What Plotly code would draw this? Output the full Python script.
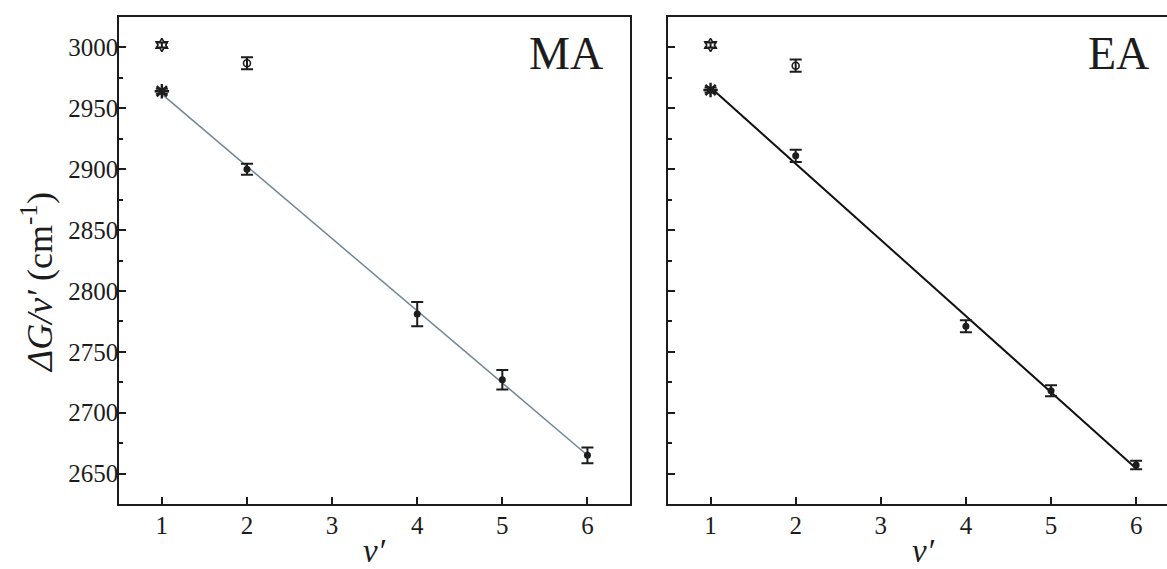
import numpy as np
import plotly.graph_objects as go

# Vibrational quantum number v' and term values ΔG/v' (cm^-1)
V_TICKS = [1, 2, 3, 4, 5, 6]

# MA panel
ma_v_fit = [1, 2, 4, 5, 6]
ma_g_fit = [2964, 2900, 2781, 2727, 2665]
ma_e_fit = [2, 4.5, 10, 8, 6.5]
ma_v_star = [1]
ma_g_star = [3002]
ma_e_star = [2]
ma_v_open = [2]
ma_g_open = [2987]
ma_e_open = [5]

# EA panel
ea_v_fit = [1, 2, 4, 5, 6]
ea_g_fit = [2965, 2911, 2771, 2718, 2657]
ea_e_fit = [2, 5, 5, 4.5, 3.5]
ea_v_star = [1]
ea_g_star = [3002]
ea_e_star = [2]
ea_v_open = [2]
ea_g_open = [2985]
ea_e_open = [5]

Y_RANGE = [2625, 3025]
FONT = "Liberation Serif"
INK = "#1c1c1c"

W, H = 1167, 569
# plot areas in pixels (left, right, top, bottom)
L_BOX = (119.3, 630.0, 17.0, 504.0)
R_BOX = (668.0, 1167.0, 17.0, 504.0)
PX_PER_UNIT = (L_BOX[1] - L_BOX[0]) / 6.0


def xdom(box):
    return [box[0] / W, box[1] / W]


def ydom(box):
    return [(H - box[3]) / H, (H - box[2]) / H]


def err(arr):
    return dict(type="data", array=arr, visible=True, color=INK, thickness=2, width=6)


def add_panel(fig, xa, ya, v_fit, g_fit, e_fit, v_star, g_star, e_star,
              v_open, g_open, e_open, line_color, line_width):
    # least-squares line through the fitted series
    slope, icpt = np.polyfit(v_fit, g_fit, 1)
    xs = np.array([min(v_fit), max(v_fit)], dtype=float)
    fig.add_trace(go.Scatter(x=xs, y=slope * xs + icpt, mode="lines",
                             line=dict(color=line_color, width=line_width),
                             xaxis=xa, yaxis=ya, showlegend=False, hoverinfo="skip"))
    fig.add_trace(go.Scatter(x=v_fit[1:], y=g_fit[1:], mode="markers", error_y=err(e_fit[1:]),
                             marker=dict(symbol="circle", size=7, color=INK),
                             xaxis=xa, yaxis=ya, showlegend=False))
    fig.add_trace(go.Scatter(x=v_fit[:1], y=g_fit[:1], mode="markers", error_y=err(e_fit[:1]),
                             marker=dict(symbol="asterisk-open", size=12, color=INK,
                                         line=dict(color=INK, width=2.4)),
                             xaxis=xa, yaxis=ya, showlegend=False))
    fig.add_trace(go.Scatter(x=v_star, y=g_star, mode="markers", error_y=err(e_star),
                             marker=dict(symbol="hexagram-open", size=10, color=INK,
                                         line=dict(color=INK, width=1.6)),
                             xaxis=xa, yaxis=ya, showlegend=False))
    fig.add_trace(go.Scatter(x=v_open, y=g_open, mode="markers", error_y=err(e_open),
                             marker=dict(symbol="circle-open", size=7, color=INK,
                                         line=dict(color=INK, width=1.6)),
                             xaxis=xa, yaxis=ya, showlegend=False))


fig = go.Figure()
add_panel(fig, "x", "y", ma_v_fit, ma_g_fit, ma_e_fit, ma_v_star, ma_g_star, ma_e_star,
          ma_v_open, ma_g_open, ma_e_open, "#6f8796", 1.5)
add_panel(fig, "x2", "y2", ea_v_fit, ea_g_fit, ea_e_fit, ea_v_star, ea_g_star, ea_e_star,
          ea_v_open, ea_g_open, ea_e_open, "#111111", 2)

tick_font = dict(family=FONT, size=25, color=INK)
common_x = dict(tickvals=V_TICKS, ticks="inside", ticklen=7, tickwidth=2, tickcolor=INK,
                showline=True, linewidth=2, linecolor=INK, mirror=True,
                showgrid=False, zeroline=False, tickfont=tick_font, automargin=False,
                ticklabelstandoff=-2)
common_y = dict(range=Y_RANGE, tick0=0, dtick=50, ticks="inside", ticklen=7, tickwidth=2,
                tickcolor=INK, showline=True, linewidth=2, linecolor=INK,
                minor=dict(dtick=25, ticks="inside", ticklen=4, tickwidth=1.5, tickcolor=INK),
                showgrid=False, zeroline=False, tickfont=tick_font, automargin=False)

r_span = (R_BOX[1] - R_BOX[0]) / PX_PER_UNIT

fig.update_layout(
    width=W, height=H,
    margin=dict(l=0, r=0, t=0, b=0),
    paper_bgcolor="white", plot_bgcolor="white",
    template="none",
    xaxis=dict(domain=xdom(L_BOX), range=[0.5, 6.5], anchor="y", **common_x),
    yaxis=dict(domain=ydom(L_BOX), anchor="x", mirror=True, showticklabels=True,
               ticklabelstandoff=-6, **common_y),
    xaxis2=dict(domain=xdom(R_BOX), range=[0.5, 0.5 + r_span], anchor="y2", **common_x),
    yaxis2=dict(domain=ydom(R_BOX), anchor="x2", mirror=False, showticklabels=False, **common_y),
)

ann = []
ann.append(dict(text="MA", x=6.21, y=2995, xref="x", yref="y", xanchor="right", yanchor="middle",
                showarrow=False, font=dict(family=FONT, size=46, color=INK)))
ann.append(dict(text="EA", x=6.17, y=2995, xref="x2", yref="y2", xanchor="right", yanchor="middle",
                showarrow=False, font=dict(family=FONT, size=46, color=INK)))
for xr in ("x", "x2"):
    ann.append(dict(text="<i>ν′</i>", x=3.5, y=(H - 551) / H, xref=xr, yref="paper",
                    xanchor="center", yanchor="middle", showarrow=False,
                    font=dict(family=FONT, size=33, color=INK)))
ann.append(dict(text="<i>ΔG/ν′</i> (cm<sup>-1</sup>)", x=37 / W, y=(H - 283) / H,
                xref="paper", yref="paper", xanchor="center", yanchor="middle",
                textangle=-90, showarrow=False, font=dict(family=FONT, size=36, color=INK)))
fig.update_layout(annotations=ann)

fig.write_html("out.html")
